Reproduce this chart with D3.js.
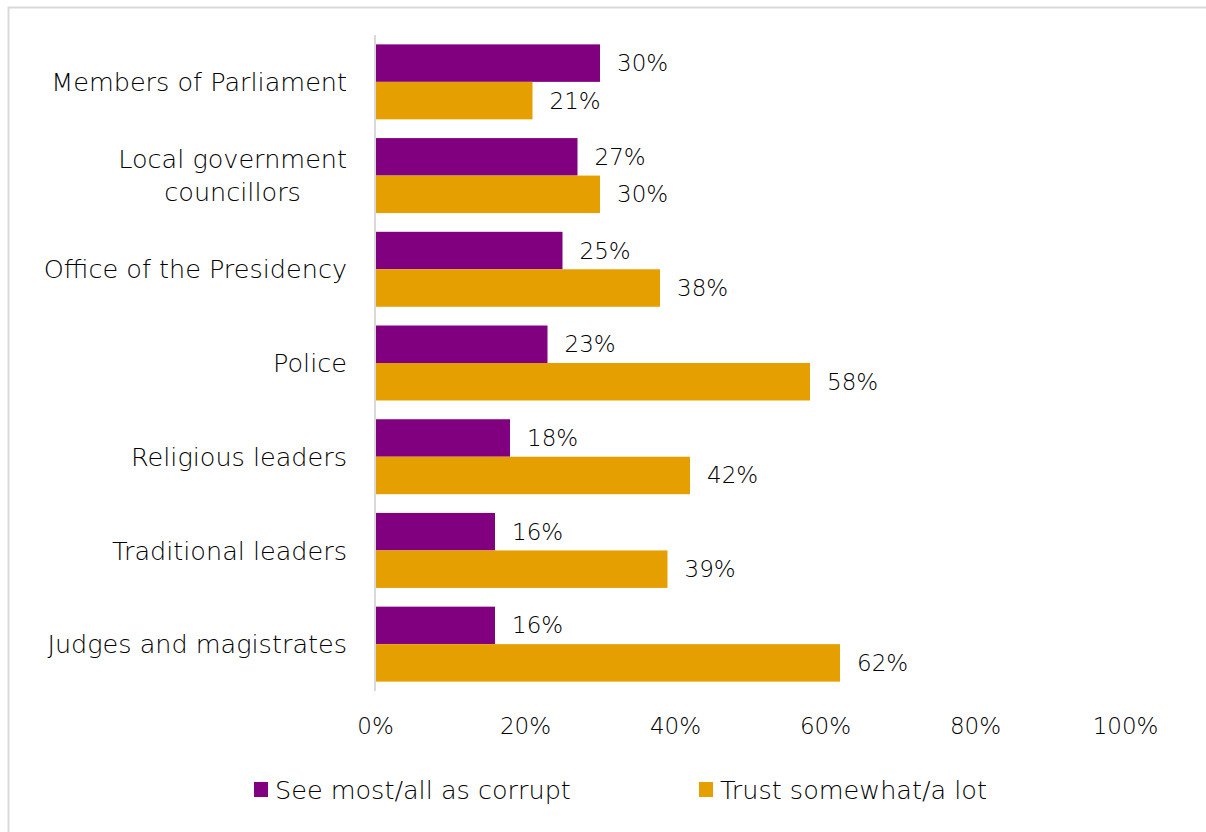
<!DOCTYPE html>
<html>
<head>
<meta charset="utf-8">
<script src="https://cdn.jsdelivr.net/npm/d3@7"></script>
<style>
  html, body { margin: 0; padding: 0; background: #fff; }
  svg { display: block; font-family: "DejaVu Sans", sans-serif; font-weight: 200; }
</style>
</head>
<body>
<svg id="chart" width="1206" height="832"></svg>
<script>
// Institutions, top to bottom
const categories = [
  "Members of Parliament",
  "Local government councillors",
  "Office of the Presidency",
  "Police",
  "Religious leaders",
  "Traditional leaders",
  "Judges and magistrates"
];
// Label lines for categories that wrap
const categoryLines = [
  ["Members of Parliament"],
  ["Local government", "councillors"],
  ["Office of the Presidency"],
  ["Police"],
  ["Religious leaders"],
  ["Traditional leaders"],
  ["Judges and magistrates"]
];
const seriesNames = ["See most/all as corrupt", "Trust somewhat/a lot"];
const corrupt = [30, 27, 25, 23, 18, 16, 16];
const trust = [21, 30, 38, 58, 42, 39, 62];
const xTicks = [0, 20, 40, 60, 80, 100];
const colors = ["#800080", "#E69F00"];

const svg = d3.select("#chart");

// outer chart border
svg.append("rect")
  .attr("x", 8.5).attr("y", 7.5)
  .attr("width", 1206).attr("height", 840)
  .attr("fill", "none").attr("stroke", "#d9d9d9").attr("stroke-width", 2);

const x = d3.scaleLinear().domain([0, 100]).range([375, 1125]);
const y = d3.scaleBand().domain(categories).range([35, 691]).paddingInner(0.2).paddingOuter(0.1);
const sub = d3.scaleBand().domain(seriesNames).range([0, y.bandwidth()]);

const rows = categories.map((c, i) => ({ c, vals: [corrupt[i], trust[i]], lines: categoryLines[i] }));

const g = svg.append("g");
const groups = g.selectAll("g.row").data(rows).join("g")
  .attr("class", "row")
  .attr("transform", d => `translate(0,${y(d.c)})`);

groups.selectAll("rect").data(d => d.vals.map((v, k) => ({ v, k }))).join("rect")
  .attr("x", x(0))
  .attr("y", d => sub(seriesNames[d.k]))
  .attr("width", d => x(d.v) - x(0))
  .attr("height", sub.bandwidth())
  .attr("fill", d => colors[d.k]);

groups.selectAll("text.val").data(d => d.vals.map((v, k) => ({ v, k }))).join("text")
  .attr("class", "val")
  .attr("x", d => x(d.v) + 17)
  .attr("y", d => sub(seriesNames[d.k]) + sub.bandwidth() / 2)
  .attr("dy", "0.35em")
  .attr("font-size", 23)
  .attr("fill", "#000")
  .text(d => d.v + "%");

// category labels: right-aligned block, lines centred within it
groups.each(function(d) {
  const lh = 33;
  const n = d.lines.length;
  const cy = y.bandwidth() / 2;
  const t = d3.select(this).append("text")
    .attr("font-size", 25.5).attr("fill", "#000");
  d.lines.forEach((ln, i) => {
    t.append("tspan")
      .attr("y", cy + (i - (n - 1) / 2) * lh)
      .attr("dy", "0.36em")
      .text(ln);
  });
  const spans = t.selectAll("tspan").nodes();
  const maxW = d3.max(spans, s => s.getComputedTextLength());
  const right = 347;
  spans.forEach(s => {
    d3.select(s).attr("x", right - maxW / 2).attr("text-anchor", "middle");
  });
});

// vertical axis line
svg.append("line")
  .attr("x1", x(0)).attr("x2", x(0))
  .attr("y1", 35).attr("y2", 691)
  .attr("stroke", "#d9d9d9").attr("stroke-width", 2);

// x axis tick labels
const xAxis = d3.axisBottom(x).tickValues(xTicks).tickFormat(d => d + "%").tickSize(0).tickPadding(0);
const ax = svg.append("g").attr("transform", "translate(0,718)").call(xAxis);
ax.select(".domain").remove();
ax.selectAll("text").attr("font-size", 23).attr("fill", "#000")
  .attr("font-family", "'DejaVu Sans', sans-serif").attr("font-weight", 200);

// legend
const legendX = [254, 699];
const lg = svg.selectAll("g.legend").data(seriesNames).join("g")
  .attr("class", "legend")
  .attr("transform", (d, i) => `translate(${legendX[i]},790)`);
lg.append("rect").attr("x", 0).attr("y", -8).attr("width", 14).attr("height", 15)
  .attr("fill", (d, i) => colors[i]);
lg.append("text").attr("x", 21).attr("dy", "0.35em").attr("font-size", 25.5).attr("fill", "#000")
  .text(d => d);
</script>
</body>
</html>
